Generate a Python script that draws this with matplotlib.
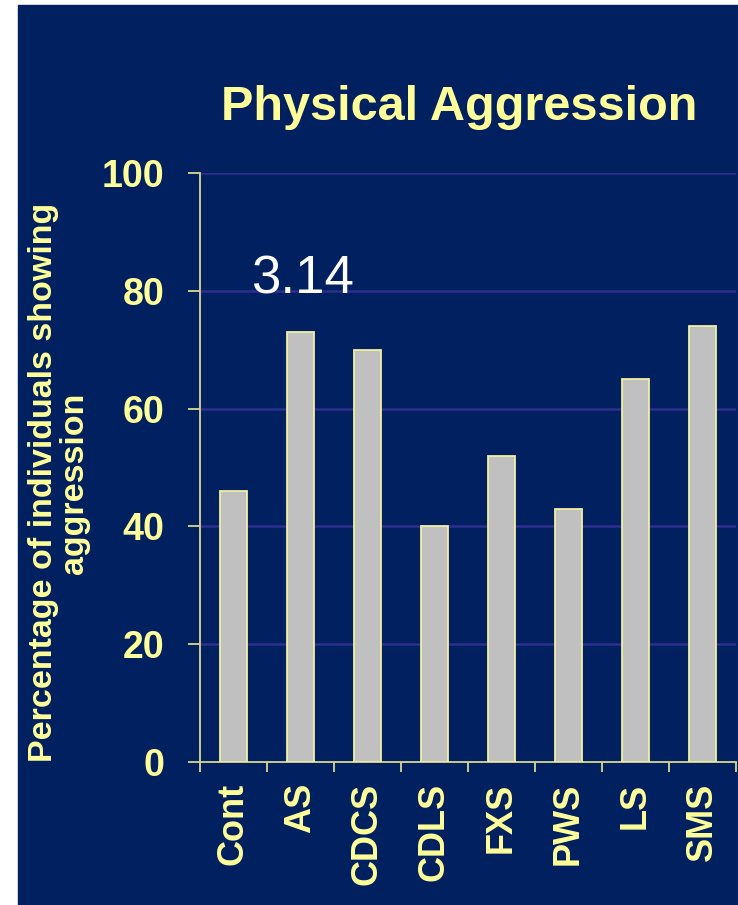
import matplotlib.pyplot as plt
import matplotlib.patches as mpatches
import numpy as np

plt.rcParams['font.family'] = ['Liberation Sans', 'DejaVu Sans']

groups = ['Cont', 'AS', 'CDCS', 'CDLS', 'FXS', 'PWS', 'LS', 'SMS']
pct = [46, 73, 70, 40, 52, 43, 65, 74]
yticks = [0, 20, 40, 60, 80, 100]

navy = '#002060'
yellow = '#FFFF99'
axcol = '#D8D890'
gridcol = '#2E2E90'

fig = plt.figure(figsize=(7.38, 9.05), dpi=100, facecolor='white')
fig.patches.append(mpatches.Rectangle((18 / 738, 0), 1 - 18 / 738, 1 - 5 / 905,
                                      transform=fig.transFigure, color=navy, zorder=-5))

ax = fig.add_axes([200 / 738, 1 - 762 / 905, 536 / 738, (762 - 173) / 905])
ax.set_facecolor(navy)
ax.patch.set_alpha(0)

x = np.arange(len(groups))
ax.bar(x, pct, width=0.39, color='#C0C0C0', edgecolor='#F0F0A0', linewidth=1.3, zorder=3)

ax.set_xlim(-0.5, len(groups) - 0.5)
ax.set_ylim(0, 100)
ax.set_yticks(yticks)
ax.set_yticklabels([str(v) for v in yticks], fontsize=27, fontweight='bold', color=yellow)
for v in yticks[1:]:
    ax.axhline(v, color=gridcol, lw=1.8, zorder=1)

# ticks between categories, labels at the centres
ax.set_xticks(np.arange(-0.5, len(groups), 1.0))
ax.set_xticklabels([])
ax.set_xticks(x, minor=True)
ax.set_xticklabels(groups, minor=True, rotation=90, fontsize=26, fontweight='bold', color=yellow)
ax.tick_params(axis='x', which='major', length=7.5, width=1.3, color=axcol, direction='out')
ax.tick_params(axis='x', which='minor', length=0, pad=15)
ax.tick_params(axis='y', length=8.5, width=1.3, color=axcol, pad=17)

for s in ['top', 'right']:
    ax.spines[s].set_visible(False)
for s in ['left', 'bottom']:
    ax.spines[s].set_color(axcol)
    ax.spines[s].set_linewidth(1.3)

ax.set_ylabel('Percentage of individuals showing\naggression', fontsize=24.5,
              fontweight='bold', color=yellow, linespacing=1.0)
ax.yaxis.set_label_coords(-0.205, 0.474)

fig.text(459 / 738, 1 - 107 / 905, 'Physical Aggression', fontsize=35, fontweight='bold',
         color=yellow, ha='center', va='center')
fig.text(302 / 738, 1 - 279 / 905, '3.14', fontsize=38, color='white', ha='center', va='center')

fig.savefig('out.png', dpi=100, facecolor=fig.get_facecolor())
